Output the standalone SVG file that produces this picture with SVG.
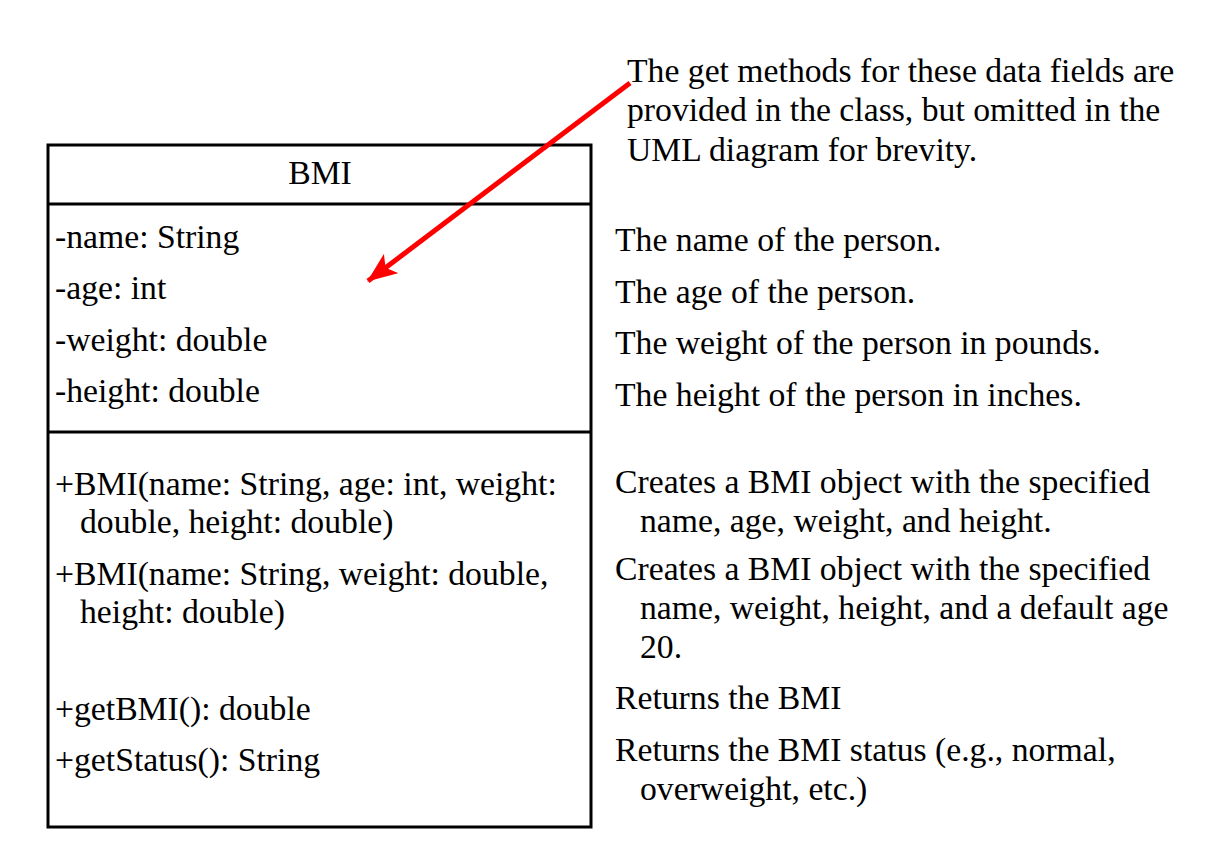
<svg xmlns="http://www.w3.org/2000/svg" width="1222" height="855" viewBox="0 0 1222 855">
<style>
text{font-family:"Liberation Serif","Times New Roman",serif;font-size:33.7px;fill:#000}
.box{fill:#fff;stroke:#000;stroke-width:3}
.div{stroke:#000;stroke-width:3}
.arrow{stroke:#f00;stroke-width:5;fill:none}
</style>
<defs>
<marker id="ah" viewBox="0 0 30 24" refX="29" refY="12" markerWidth="30" markerHeight="24" orient="auto" markerUnits="userSpaceOnUse">
<path d="M0,0 L30,12 L0,24 L7,12 z" fill="#f00"/>
</marker>
</defs>
<rect width="1222" height="855" fill="#fff"/>
<g id="node-bmi">
<rect class="box" x="48" y="145" width="543" height="682"/>
<line class="div" x1="48" y1="204" x2="591" y2="204"/>
<line class="div" x1="48" y1="432" x2="591" y2="432"/>
<text x="320" y="184" text-anchor="middle">BMI</text>
<text x="55" y="248">-name: String</text>
<text x="55" y="299">-age: int</text>
<text x="55" y="351">-weight: double</text>
<text x="55" y="402">-height: double</text>
<text x="55" y="495">+BMI(name: String, age: int, weight:</text>
<text x="80" y="533">double, height: double)</text>
<text x="55" y="585">+BMI(name: String, weight: double,</text>
<text x="80" y="623">height: double)</text>
<text x="55" y="720">+getBMI(): double</text>
<text x="55" y="771">+getStatus(): String</text>
</g>
<g id="note">
<text x="627" y="82">The get methods for these data fields are</text>
<text x="627" y="121">provided in the class, but omitted in the</text>
<text x="627" y="161">UML diagram for brevity.</text>
</g>
<g id="descriptions">
<text x="615" y="251">The name of the person.</text>
<text x="615" y="303">The age of the person.</text>
<text x="615" y="354">The weight of the person in pounds.</text>
<text x="615" y="406">The height of the person in inches.</text>
<text x="615" y="493">Creates a BMI object with the specified</text>
<text x="640" y="532">name, age, weight, and height.</text>
<text x="615" y="580">Creates a BMI object with the specified</text>
<text x="640" y="619">name, weight, height, and a default age</text>
<text x="640" y="658">20.</text>
<text x="615" y="709">Returns the BMI</text>
<text x="615" y="761">Returns the BMI status (e.g., normal,</text>
<text x="640" y="800">overweight, etc.)</text>
</g>
<g id="connectors">
<line class="arrow" x1="630" y1="83" x2="368" y2="281" marker-end="url(#ah)"/>
</g>
</svg>
